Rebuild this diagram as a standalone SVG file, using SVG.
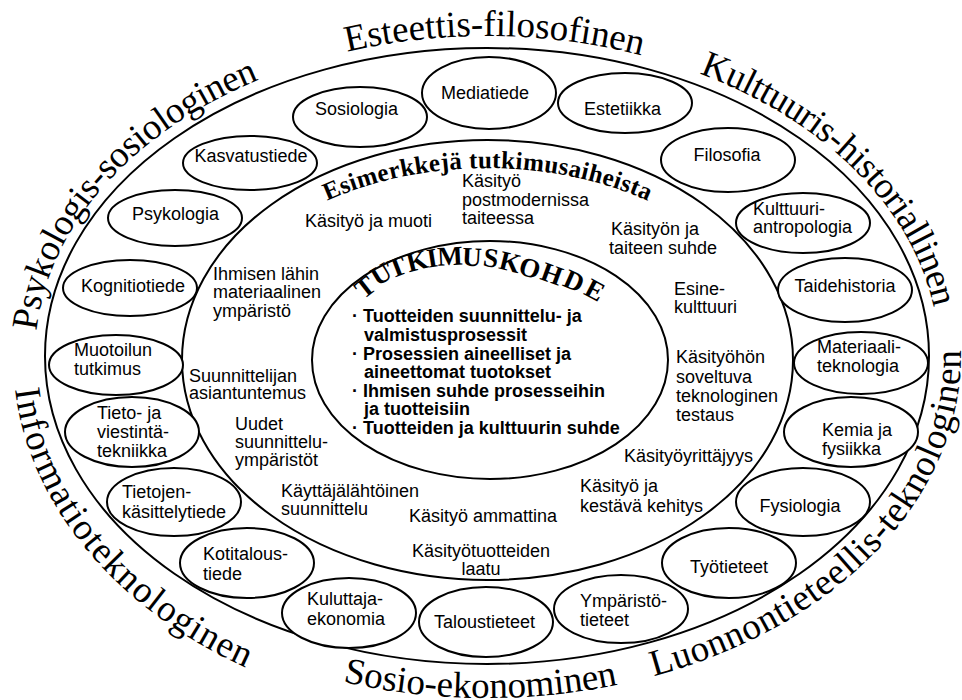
<svg xmlns="http://www.w3.org/2000/svg" width="962" height="700" viewBox="0 0 962 700">
<style>
.ring{fill:none;stroke:#000;stroke-width:2}
.n ellipse{fill:#fff;stroke:#000;stroke-width:2}
.t{font-family:"Liberation Sans",Arial,Helvetica,sans-serif;font-size:18px;fill:#000}
.c{text-anchor:middle}
.b{font-weight:bold}
.o{font-family:"Liberation Serif","Times New Roman",serif;font-size:37px;fill:#000}
.h{font-family:"Liberation Serif","Times New Roman",serif;font-weight:bold;fill:#000}
.k{font-family:"Liberation Serif","Times New Roman",serif;font-weight:bold;font-size:27px;text-anchor:middle;fill:#000}
</style>
<defs>
<path id="p1" d="M36.4,330.9 A452,320 0 0,1 370,46.9"/>
<path id="p2" d="M347.3,51.7 A452,320 0 0,1 746.3,93.9"/>
<path id="p3" d="M699.2,73.5 A452,320 0 0,1 937.3,383.9"/>
<path id="p4" d="M15,389.2 A474,362 0 0,0 364.3,705.7"/>
<path id="p5" d="M342.9,681.8 A474,342 0 0,0 724,652.2"/>
<path id="p6" d="M653.8,676.2 A474,342 0 0,0 944.8,267.5"/>
<path id="pm" d="M201.6,343.3 A287,192 0 0,1 773.4,343.3"/>
</defs>

<g id="rings">
<ellipse class="ring" cx="487" cy="356" rx="442" ry="308"/>
<ellipse class="ring" cx="487.5" cy="360" rx="305.5" ry="220"/>
<ellipse class="ring" cx="490" cy="360" rx="178" ry="119"/>
</g>

<g id="outer-labels">
<text class="o"><textPath href="#p1" textLength="352">Psykologis-sosiologinen</textPath></text>
<text class="o"><textPath href="#p2" textLength="297">Esteettis-filosofinen</textPath></text>
<text class="o"><textPath href="#p3" textLength="345">Kulttuuris-historiallinen</textPath></text>
<text class="o"><textPath href="#p4" textLength="378">Informatioteknologinen</textPath></text>
<text class="o"><textPath href="#p5" textLength="277">Sosio-ekonominen</textPath></text>
<text class="o"><textPath href="#p6" textLength="482">Luonnontieteellis-teknologinen</textPath></text>
</g>

<g id="sosiologia" class="n"><ellipse cx="360" cy="117" rx="67" ry="30"/><text class="t c" x="356.5" y="115">Sosiologia</text></g>
<g id="mediatiede" class="n"><ellipse cx="489" cy="93" rx="67" ry="36"/><text class="t c" x="485" y="99">Mediatiede</text></g>
<g id="estetiikka" class="n"><ellipse cx="625" cy="103" rx="67" ry="30"/><text class="t c" x="622.5" y="115">Estetiikka</text></g>
<g id="filosofia" class="n"><ellipse cx="728" cy="160" rx="67" ry="32"/><text class="t c" x="727" y="161">Filosofia</text></g>
<g id="kasvatustiede" class="n"><ellipse cx="250" cy="163" rx="67" ry="27"/><text class="t c" x="251" y="162">Kasvatustiede</text></g>
<g id="psykologia" class="n"><ellipse cx="175" cy="218" rx="67" ry="28"/><text class="t c" x="175.5" y="220">Psykologia</text></g>
<g id="kulttuuriantropologia" class="n"><ellipse cx="803" cy="223" rx="67" ry="30"/><text class="t" x="753" y="215">Kulttuuri-</text><text class="t" x="753" y="233">antropologia</text></g>
<g id="kognitiotiede" class="n"><ellipse cx="130" cy="288" rx="67" ry="28"/><text class="t c" x="133" y="292">Kognitiotiede</text></g>
<g id="taidehistoria" class="n"><ellipse cx="845" cy="290" rx="67" ry="32"/><text class="t c" x="845" y="292">Taidehistoria</text></g>
<g id="muotoilun-tutkimus" class="n"><ellipse cx="116" cy="365" rx="67" ry="30"/><text class="t" x="74" y="356">Muotoilun</text><text class="t" x="74" y="375">tutkimus</text></g>
<g id="materiaaliteknologia" class="n"><ellipse cx="861" cy="363" rx="67" ry="31"/><text class="t" x="817" y="353">Materiaali-</text><text class="t" x="817" y="372">teknologia</text></g>
<g id="tieto-viestintatekniikka" class="n"><ellipse cx="132" cy="432" rx="67" ry="35"/><text class="t" x="97" y="419">Tieto- ja</text><text class="t" x="97" y="438">viestintä-</text><text class="t" x="97" y="457">tekniikka</text></g>
<g id="kemia-fysiikka" class="n"><ellipse cx="851" cy="432" rx="67" ry="35"/><text class="t" x="822" y="436">Kemia ja</text><text class="t" x="822" y="455">fysiikka</text></g>
<g id="tietojenkasittelytiede" class="n"><ellipse cx="174" cy="502" rx="67" ry="34"/><text class="t" x="122" y="498">Tietojen-</text><text class="t" x="122" y="518">käsittelytiede</text></g>
<g id="fysiologia" class="n"><ellipse cx="803" cy="502" rx="67" ry="34"/><text class="t c" x="800" y="512">Fysiologia</text></g>
<g id="kotitaloustiede" class="n"><ellipse cx="247" cy="563" rx="67" ry="35"/><text class="t" x="203" y="560">Kotitalous-</text><text class="t" x="203" y="580">tiede</text></g>
<g id="tyotieteet" class="n"><ellipse cx="729" cy="563" rx="67" ry="35"/><text class="t c" x="729" y="573">Työtieteet</text></g>
<g id="kuluttajaekonomia" class="n"><ellipse cx="349" cy="613" rx="67" ry="35"/><text class="t" x="307" y="605">Kuluttaja-</text><text class="t" x="307" y="625">ekonomia</text></g>
<g id="ymparistotieteet" class="n"><ellipse cx="621" cy="609" rx="67" ry="34"/><text class="t" x="580" y="607">Ympäristö-</text><text class="t" x="580" y="626">tieteet</text></g>
<g id="taloustieteet" class="n"><ellipse cx="486" cy="622" rx="67" ry="35"/><text class="t c" x="484.5" y="628">Taloustieteet</text></g>

<g id="esimerkkeja">
<text class="h" font-size="25"><textPath href="#pm" startOffset="50%" text-anchor="middle" textLength="330">Esimerkkejä tutkimusaiheista</textPath></text>
<text class="t" x="305" y="227">Käsityö ja muoti</text>
<text class="t" x="462" y="187">Käsityö</text>
<text class="t" x="462" y="205.5">postmodernissa</text>
<text class="t" x="462" y="224">taiteessa</text>
<text class="t" x="611" y="235">Käsityön ja</text>
<text class="t" x="609" y="254">taiteen suhde</text>
<text class="t" x="674" y="295">Esine-</text>
<text class="t" x="674" y="313">kulttuuri</text>
<text class="t" x="676" y="363">Käsityöhön</text>
<text class="t" x="676" y="383">soveltuva</text>
<text class="t" x="676" y="402">teknologinen</text>
<text class="t" x="676" y="421">testaus</text>
<text class="t" x="624" y="462">Käsityöyrittäjyys</text>
<text class="t" x="580" y="492">Käsityö ja</text>
<text class="t" x="580" y="512">kestävä kehitys</text>
<text class="t" x="409" y="522">Käsityö ammattina</text>
<text class="t c" x="481" y="557">Käsityötuotteiden</text>
<text class="t c" x="481" y="575">laatu</text>
<text class="t" x="281" y="497">Käyttäjälähtöinen</text>
<text class="t" x="281" y="515">suunnittelu</text>
<text class="t" x="235" y="430">Uudet</text>
<text class="t" x="235" y="448">suunnittelu-</text>
<text class="t" x="235" y="466">ympäristöt</text>
<text class="t" x="189" y="382">Suunnittelijan</text>
<text class="t" x="189" y="399">asiantuntemus</text>
<text class="t" x="213" y="280">Ihmisen lähin</text>
<text class="t" x="213" y="298">materiaalinen</text>
<text class="t" x="213" y="317">ympäristö</text>
</g>

<g id="tutkimuskohde">
<text class="k" y="9" transform="translate(365,287) rotate(-38)">T</text>
<text class="k" y="9" transform="translate(381,274) rotate(-31)">U</text>
<text class="k" y="9" transform="translate(397,267) rotate(-21)">T</text>
<text class="k" y="9" transform="translate(417,261) rotate(-14)">K</text>
<text class="k" y="9" transform="translate(432,258) rotate(-9)">I</text>
<text class="k" y="9" transform="translate(450,256) rotate(-3)">M</text>
<text class="k" y="9" transform="translate(472,257) rotate(3)">U</text>
<text class="k" y="9" transform="translate(491,258) rotate(8)">S</text>
<text class="k" y="9" transform="translate(510,262) rotate(14)">K</text>
<text class="k" y="9" transform="translate(530,268) rotate(17)">O</text>
<text class="k" y="9" transform="translate(552,274) rotate(20)">H</text>
<text class="k" y="9" transform="translate(574,281) rotate(24)">D</text>
<text class="k" y="9" transform="translate(595,290) rotate(28)">E</text>
<text class="t b" x="352" y="322">· Tuotteiden suunnittelu- ja</text>
<text class="t b" x="364" y="340.5">valmistusprosessit</text>
<text class="t b" x="352" y="359.5">· Prosessien aineelliset ja</text>
<text class="t b" x="364" y="378">aineettomat tuotokset</text>
<text class="t b" x="352" y="397">· Ihmisen suhde prosesseihin</text>
<text class="t b" x="364" y="415">ja tuotteisiin</text>
<text class="t b" x="352" y="434">· Tuotteiden ja kulttuurin suhde</text>
</g>
</svg>
